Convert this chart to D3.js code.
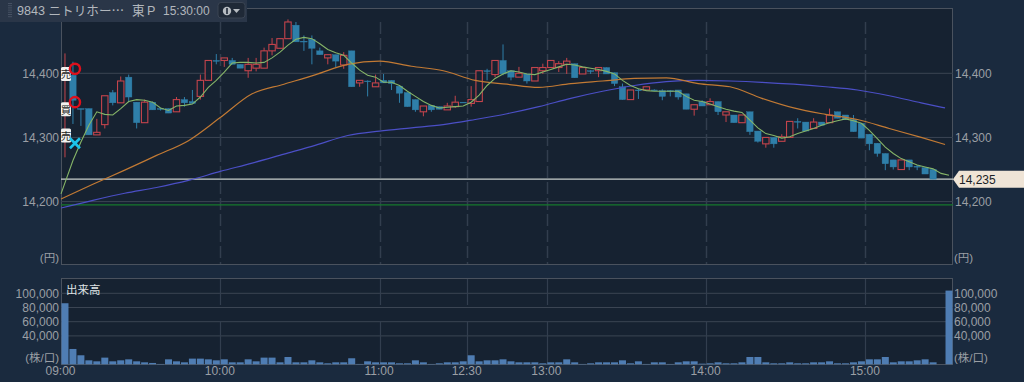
<!DOCTYPE html>
<html>
<head>
<meta charset="utf-8">
<script src="https://cdn.jsdelivr.net/npm/d3@7"></script>
<style>
  html, body { margin: 0; padding: 0; background: #1a2a3e; overflow: hidden; }
  text { font-family: "Liberation Sans", "Noto Sans CJK JP", sans-serif; }
</style>
</head>
<body>
<svg id="chart" width="1024" height="382"></svg>
<script>
// Candles, one per 3 minute slot
const candleOpen = [14395,14397,14345,14345,14304,14320,14370,14354,14394,14355,14323,14355,14345,14345,14340,14359,14356,14364,14389,14420,
  14420,14420,14414,14404,14408,14408,14435,14439,14454,14475,14450,14453,14435,14424,14429,14413,14435,14385,14388,14379,
  14389,14389,14380,14370,14359,14340,14350,14348,14343,14348,14355,14353,14356,14404,14398,14420,14404,14394,14399,14388,
  14404,14409,14409,14414,14415,14399,14404,14404,14409,14401,14379,14359,14374,14374,14374,14373,14373,14374,14368,14344,
  14356,14351,14356,14335,14335,14323,14340,14310,14290,14300,14294,14300,14325,14324,14314,14324,14323,14340,14335,14328,
  14322,14305,14291,14275,14265,14250,14265,14255,14253,14250];
const candleHigh = [14431,14418,14345,14345,14329,14365,14374,14395,14398,14355,14359,14356,14346,14345,14363,14363,14374,14398,14420,14430,
  14424,14424,14414,14424,14424,14440,14455,14454,14484,14480,14459,14459,14440,14429,14429,14433,14435,14389,14389,14398,
  14399,14389,14380,14370,14359,14349,14350,14348,14354,14365,14355,14380,14404,14407,14420,14445,14404,14410,14399,14409,
  14415,14420,14419,14424,14415,14409,14405,14409,14409,14401,14384,14374,14376,14379,14375,14375,14374,14374,14368,14351,
  14358,14361,14356,14340,14335,14335,14340,14310,14300,14300,14305,14325,14330,14324,14330,14324,14345,14340,14335,14335,
  14322,14305,14291,14275,14265,14265,14265,14257,14253,14250];
const candleLow = [14269,14321,14318,14304,14304,14314,14350,14354,14355,14314,14323,14343,14342,14338,14340,14348,14353,14359,14389,14414,
  14410,14414,14408,14393,14403,14408,14428,14439,14454,14449,14435,14414,14429,14414,14409,14407,14379,14379,14364,14379,
  14385,14374,14354,14348,14340,14333,14340,14344,14343,14346,14355,14348,14356,14389,14394,14397,14389,14394,14384,14388,
  14399,14409,14402,14399,14393,14399,14399,14394,14399,14380,14359,14359,14360,14374,14373,14358,14364,14359,14344,14334,
  14349,14351,14335,14324,14323,14323,14304,14292,14284,14284,14294,14300,14314,14310,14314,14319,14323,14330,14328,14309,
  14299,14280,14270,14249,14250,14250,14249,14249,14243,14235];
const candleClose = [14400,14358,14344,14304,14308,14365,14354,14388,14363,14323,14355,14343,14345,14338,14359,14354,14353,14389,14420,14420,
  14424,14414,14408,14414,14414,14435,14445,14454,14480,14449,14450,14439,14429,14429,14419,14428,14379,14389,14388,14385,
  14385,14384,14369,14348,14343,14349,14343,14344,14349,14355,14355,14359,14404,14404,14420,14399,14394,14400,14388,14409,
  14409,14420,14415,14419,14393,14409,14404,14409,14399,14384,14359,14374,14374,14379,14374,14364,14373,14363,14344,14351,
  14349,14356,14340,14340,14323,14335,14309,14294,14300,14290,14301,14325,14325,14310,14324,14319,14335,14330,14328,14309,
  14299,14290,14275,14259,14254,14265,14254,14255,14243,14235];

// Short moving average, one value per slot
const maShort = [14212,14264,14293,14319,14340,14336,14335,14345,14356,14359,14358,14355,14346,14342,14349,14350,14352,14363,14378,14389,
  14402,14416,14417,14417,14416,14417,14424,14433,14444,14453,14456,14454,14446,14437,14432,14428,14416,14405,14397,14394,
  14386,14386,14381,14372,14364,14356,14350,14346,14347,14348,14349,14355,14366,14381,14392,14399,14404,14402,14399,14398,
  14402,14406,14410,14414,14413,14410,14408,14406,14403,14399,14389,14381,14376,14373,14372,14372,14372,14372,14364,14358,
  14356,14352,14348,14344,14341,14339,14327,14315,14306,14303,14299,14301,14306,14310,14314,14319,14323,14326,14329,14326,
  14322,14311,14298,14285,14275,14267,14262,14257,14254,14251,14244,14241];

// Longer averages, read every 4 slots
const maSlots = [0,4,8,12,16,20,24,28,32,36,40,44,48,52,56,60,64,68,72,76,80,84,88,92,96,100,104,108,111];
const maMiddle = [14204,14227,14249,14272,14295,14331,14368,14383,14398,14414,14419,14411,14404,14389,14383,14378,14384,14388,14392,14393,
  14384,14379,14361,14346,14336,14328,14314,14300,14289];
const maLong = [14190,14202,14213,14222,14233,14247,14260,14274,14288,14303,14310,14315,14320,14328,14337,14348,14361,14372,14381,14387,
  14389,14388,14386,14383,14379,14374,14365,14354,14346];

const volumes = [86000,21600,12700,5600,4200,9400,4200,5600,7000,4200,2800,1900,500,7000,4200,2800,8000,8000,7000,5600,
  7000,2800,2800,7000,4200,9400,9400,2800,10300,2800,2800,5600,2800,1400,2800,2800,8500,500,4200,2800,
  2800,2800,1400,1400,5600,2800,500,1400,2800,2800,4200,12700,4200,5600,5600,7000,4200,2800,2800,2800,
  1400,2800,2800,7000,2800,500,1400,2800,2800,2800,5600,1400,4200,500,2800,2800,500,2800,4200,4200,
  900,1400,2800,1400,1400,2800,10300,10300,2800,1400,1400,2800,1400,1400,2800,2800,4200,1400,1400,2800,
  4200,7000,7000,10300,2800,4200,4200,5600,7000,2800,0,103800];

const priceTicks = [14200, 14300, 14400];
const volumeTicks = [40000, 60000, 80000, 100000];
const timeSlots = [0, 20, 40, 51, 61, 81, 101];
const timeLabels = ['09:00', '10:00', '11:00', '12:30', '13:00', '14:00', '15:00'];
const lastPrice = 14235;
const supportPrice = 14195;
const signalCircles = [14407, 14355];
const signalCross = 14291;
const signalTags = [['売', 14399], ['買', 14344], ['売', 14303]];

const C = {
  page: '#1a2a3e', plot: '#162231', grid: '#3b4553', frame: '#4a525e', dash: '#323e4e',
  label: '#9b9fa5', up: '#c4444c', down: '#2f7fa9', vol: '#4f7db3',
  short: '#86b568', middle: '#c27a34', long: '#4b4fc6'
};

const left = 61, right = 953;
const svg = d3.select('#chart');

const xs = d3.scaleLinear().domain([0, 112]).range([left, right]);
const xBand = d3.scaleBand().domain(d3.range(112)).range([left, right]).paddingInner(0.12).paddingOuter(0.06);
const y = d3.scaleLinear().domain([14400, 14200]).range([73.3, 201.6]);
const yVol = d3.scaleLinear().domain([0, 100000]).range([364.3, 293.3]);

// Panels
[[8.5, 264.5], [278.5, 364.5]].forEach(p => {
  svg.append('rect')
    .attr('x', left + 0.5).attr('y', p[0])
    .attr('width', right - left - 1).attr('height', p[1] - p[0])
    .attr('fill', C.plot).attr('stroke', C.frame).attr('stroke-width', 1);
});

// Horizontal grid and tick labels
const gridY = svg.append('g').attr('class', 'price-grid');
gridY.selectAll('line').data(priceTicks).enter().append('line')
  .attr('x1', left).attr('x2', right)
  .attr('y1', d => y(d)).attr('y2', d => y(d))
  .attr('stroke', C.grid);

const gridV = svg.append('g').attr('class', 'volume-grid');
gridV.selectAll('line').data(volumeTicks).enter().append('line')
  .attr('x1', left).attr('x2', right)
  .attr('y1', d => yVol(d)).attr('y2', d => yVol(d))
  .attr('stroke', C.grid);

// Time lines
timeSlots.slice(1).forEach(s => {
  const xt = Math.round(xs(s)) + 0.5;
  svg.append('line').attr('x1', xt).attr('x2', xt).attr('y1', 22).attr('y2', 264)
    .attr('stroke', C.dash).attr('stroke-width', 1.5).attr('stroke-dasharray', '12 4');
  svg.append('line').attr('x1', xt).attr('x2', xt).attr('y1', 279).attr('y2', 364)
    .attr('stroke', C.dash).attr('stroke-width', 1.2).attr('stroke-dasharray', '26 16 44');
});

function styleAxis(g) {
  g.select('.domain').remove();
  g.selectAll('.tick line').remove();
  g.selectAll('text')
    .attr('fill', C.label)
    .style('font-size', '12px')
    .style('font-family', '"Liberation Sans", sans-serif');
}

const fmt = d3.format(',');
svg.append('g').attr('transform', `translate(${left + 3},0)`)
  .call(d3.axisLeft(y).tickValues(priceTicks).tickFormat(fmt).tickSize(0).tickPadding(5)).call(styleAxis);
svg.append('g').attr('transform', `translate(${right + 1},0)`)
  .call(d3.axisRight(y).tickValues(priceTicks).tickFormat(fmt).tickSize(0).tickPadding(1)).call(styleAxis);
svg.append('g').attr('transform', `translate(${left + 1},0)`)
  .call(d3.axisLeft(yVol).tickValues(volumeTicks).tickFormat(fmt).tickSize(0).tickPadding(3)).call(styleAxis);
svg.append('g').attr('transform', `translate(${right},0)`)
  .call(d3.axisRight(yVol).tickValues(volumeTicks).tickFormat(fmt).tickSize(0).tickPadding(1)).call(styleAxis);
svg.append('g').attr('transform', 'translate(-1,365)')
  .call(d3.axisBottom(xs).tickValues(timeSlots).tickFormat((d, i) => timeLabels[i]).tickSize(0).tickPadding(1)).call(styleAxis);

// Unit labels
[[59, 262, 'end', '(円)'], [954, 262, 'start', '(円)'], [59, 362, 'end', '(株/口)'], [954, 362, 'start', '(株/口)']].forEach(u => {
  svg.append('text').attr('x', u[0]).attr('y', u[1]).attr('text-anchor', u[2])
    .attr('fill', C.label).style('font-size', '11.5px').text(u[3]);
});
svg.append('text').attr('x', 66).attr('y', 294).attr('fill', '#dfe2e4')
  .style('font-size', '11.5px').text('出来高');

// Price reference lines
svg.append('line').attr('x1', left).attr('x2', right)
  .attr('y1', y(supportPrice)).attr('y2', y(supportPrice))
  .attr('stroke', '#16792c').attr('stroke-width', 1.2);
svg.append('line').attr('x1', left).attr('x2', right)
  .attr('y1', y(lastPrice)).attr('y2', y(lastPrice))
  .attr('stroke', '#c9cfcc').attr('stroke-width', 1.3);

// Candles
const candles = svg.append('g').attr('class', 'candles').selectAll('g')
  .data(candleOpen.map((o, i) => ({ i, o, h: candleHigh[i], l: candleLow[i], c: candleClose[i] })))
  .enter().append('g');

const candleColor = d => (d.c > d.o ? C.up : C.down);
const candleX = d => xs(d.i + 0.5);

candles.append('line')
  .attr('x1', candleX).attr('x2', candleX)
  .attr('y1', d => y(d.h)).attr('y2', d => y(d.l))
  .attr('stroke', candleColor).attr('stroke-width', 1);

candles.append('rect')
  .attr('x', d => candleX(d) - 3.2)
  .attr('y', d => y(Math.max(d.o, d.c)))
  .attr('width', 6.4)
  .attr('height', d => Math.max(0.8, Math.abs(y(d.o) - y(d.c))))
  .attr('fill', d => (d.c > d.o ? C.plot : C.down))
  .attr('stroke', candleColor).attr('stroke-width', d => (d.c > d.o ? 1.1 : 0.4));

// Moving averages
const lineShort = d3.line().x((d, i) => (i === 0 ? left : xs(i + 0.5))).y(d => y(d));
const lineSlots = d3.line().x((d, i) => xs(maSlots[i])).y(d => y(d)).curve(d3.curveMonotoneX);

svg.append('path').attr('d', lineSlots(maLong)).attr('fill', 'none').attr('stroke', C.long).attr('stroke-width', 1.2);
svg.append('path').attr('d', lineSlots(maMiddle)).attr('fill', 'none').attr('stroke', C.middle).attr('stroke-width', 1.2);
svg.append('path').attr('d', lineShort(maShort)).attr('fill', 'none').attr('stroke', C.short).attr('stroke-width', 1.1);

// Volume bars
svg.append('g').selectAll('rect').data(volumes).enter().append('rect')
  .attr('x', (d, i) => xBand(i))
  .attr('y', d => yVol(d))
  .attr('width', xBand.bandwidth())
  .attr('height', d => yVol(0) - yVol(d))
  .attr('fill', C.vol);

// Trade signals, tags go under the circles
const tags = svg.append('g').selectAll('g').data(signalTags).enter().append('g')
  .attr('transform', d => `translate(${xs(0.5) + 1},${y(d[1])})`);
tags.append('rect').attr('x', -5).attr('y', -7).attr('width', 10).attr('height', 14).attr('rx', 1.5).attr('fill', '#f2f2f0');
tags.append('text').attr('text-anchor', 'middle').attr('y', 4.5).attr('fill', '#222')
  .style('font-size', '10.5px').text(d => d[0]);

const signalX = xs(1.75);
svg.append('g').selectAll('circle').data(signalCircles).enter().append('circle')
  .attr('cx', signalX).attr('cy', d => y(d)).attr('r', 5.1)
  .attr('fill', 'none').attr('stroke', '#e0101c').attr('stroke-width', 2.4);

[[-5, -5, 5, 5], [-5, 5, 5, -5]].forEach(s => {
  svg.append('line')
    .attr('x1', signalX + s[0]).attr('y1', y(signalCross) + s[1])
    .attr('x2', signalX + s[2]).attr('y2', y(signalCross) + s[3])
    .attr('stroke', '#1cc3ea').attr('stroke-width', 2.6);
});

// Last price tag
const tagY = y(lastPrice);
svg.append('path')
  .attr('d', `M${right},${tagY} L${right + 6},${tagY - 8.5} L1024,${tagY - 8.5} L1024,${tagY + 8.5} L${right + 6},${tagY + 8.5} Z`)
  .attr('fill', '#efe4d6');
svg.append('text').attr('x', right + 6).attr('y', tagY + 4.5).attr('fill', '#1b1f26')
  .style('font-size', '12px').text(fmt(lastPrice));

// Header bar
const header = svg.append('g');
header.append('rect').attr('x', 0).attr('y', 0).attr('width', 247).attr('height', 22).attr('fill', '#2a3648');
d3.range(7).forEach(i => {
  header.append('rect').attr('x', 8).attr('y', 3 + i * 2.2).attr('width', 4).attr('height', 1).attr('fill', '#465163');
});
header.append('text').attr('x', 17).attr('y', 14.5).attr('fill', '#b2b7bd')
  .style('font-size', '12.6px').text('9843 ニトリホー⋯');
header.append('text').attr('x', 132).attr('y', 14.5).attr('fill', '#b2b7bd')
  .style('font-size', '12.6px').style('word-spacing', '-1px').text('東 P');
header.append('text').attr('x', 163).attr('y', 14.5).attr('fill', '#b2b7bd')
  .style('font-size', '12px').text('15:30:00');
header.append('rect').attr('x', 218).attr('y', 2.5).attr('width', 27).attr('height', 15.5).attr('rx', 3)
  .attr('fill', '#1f2937').attr('stroke', '#3a4453');
header.append('circle').attr('cx', 227).attr('cy', 11).attr('r', 4.2).attr('fill', '#b6bbc1');
header.append('rect').attr('x', 226.2).attr('y', 8).attr('width', 1.6).attr('height', 6).attr('fill', '#1f2937');
header.append('path').attr('d', 'M233,9 L240,9 L236.5,13 Z').attr('fill', '#b6bbc1');
</script>
</body>
</html>
